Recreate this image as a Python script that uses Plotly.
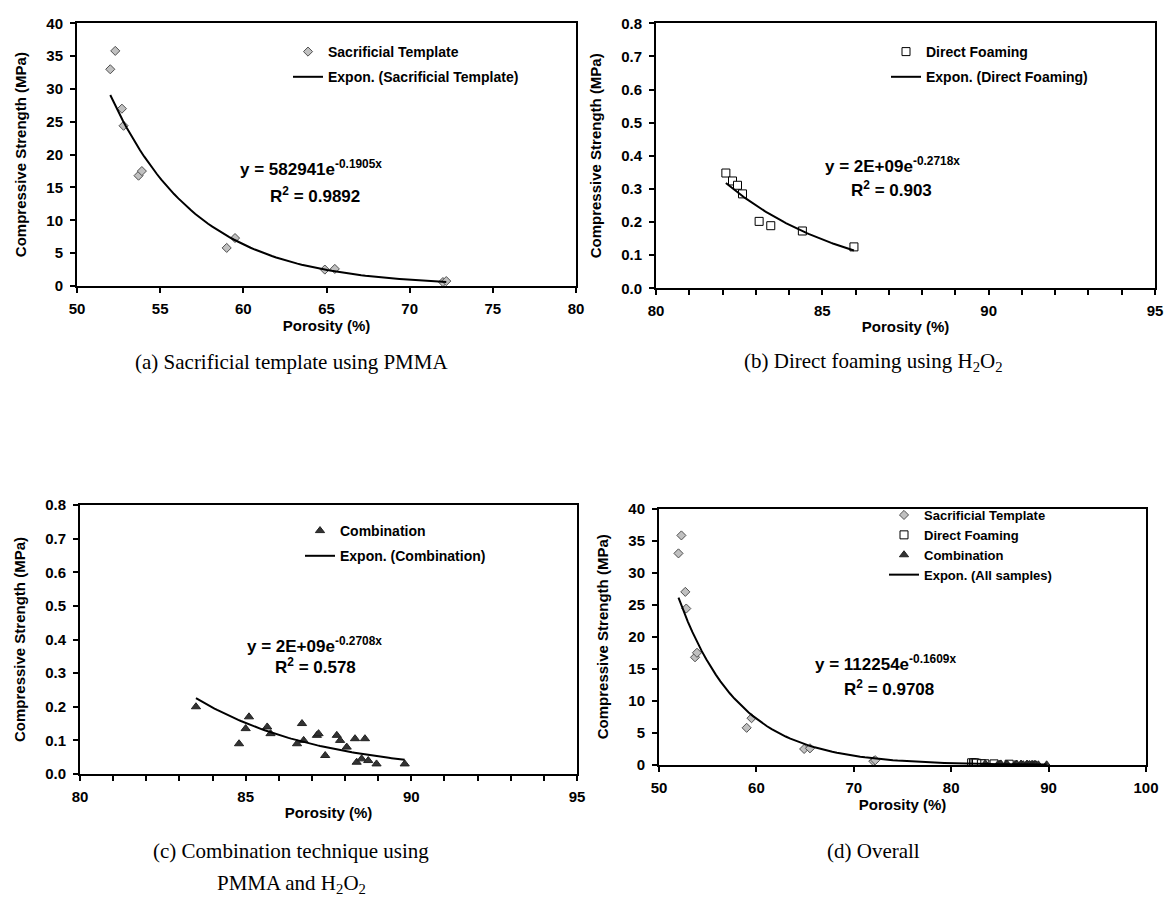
import numpy as np
import plotly.graph_objects as go

W, H = 1164, 906
def px(x): return x / W
def py(y): return 1 - y / H

# ---------------- data ----------------
st_x = [52.0, 52.3, 52.7, 52.8, 53.7, 53.9, 59.0, 59.5, 64.9, 65.5, 72.0, 72.2]
st_y = [33.0, 35.8, 27.0, 24.4, 16.8, 17.5, 5.8, 7.3, 2.5, 2.6, 0.6, 0.75]

df_x = [82.1, 82.3, 82.45, 82.6, 83.1, 83.45, 84.4, 85.95]
df_y = [0.348, 0.324, 0.311, 0.285, 0.202, 0.189, 0.173, 0.125]

cb_x = [83.5, 84.8, 85.0, 85.1, 85.65, 85.75, 86.55, 86.7, 86.75, 87.15, 87.2,
        87.4, 87.75, 87.85, 88.05, 88.3, 88.35, 88.5, 88.6, 88.7, 88.95, 89.8]
cb_y = [0.20, 0.09, 0.135, 0.17, 0.14, 0.12, 0.09, 0.15, 0.10, 0.115, 0.12,
        0.055, 0.115, 0.10, 0.08, 0.105, 0.035, 0.045, 0.105, 0.04, 0.03, 0.03]

# displayed trendline equations
st_A, st_b = 582941.0, -0.1905
all_A, all_b = 112254.0, -0.1609

eq_a = ("y = 582941e<sup>-0.1905x</sup>", "R<sup>2</sup> = 0.9892")
eq_b = ("y = 2E+09e<sup>-0.2718x</sup>", "R<sup>2</sup> = 0.903")
eq_c = ("y = 2E+09e<sup>-0.2708x</sup>", "R<sup>2</sup> = 0.578")
eq_d = ("y = 112254e<sup>-0.1609x</sup>", "R<sup>2</sup> = 0.9708")

captions = ["(a) Sacrificial template using PMMA",
            "(b) Direct foaming using H<sub>2</sub>O<sub>2</sub>",
            "(c) Combination technique using",
            "PMMA and H<sub>2</sub>O<sub>2</sub>",
            "(d) Overall"]

def expfit(xs, ys):
    b, lnA = np.polyfit(np.array(xs), np.log(np.array(ys)), 1)
    return np.exp(lnA), b

def curve(A, b, xs):
    xx = np.linspace(min(xs), max(xs), 80)
    return xx, A * np.exp(b * xx)

ARIAL = "Arial, Liberation Sans, sans-serif"
TIMES = "Times New Roman, Liberation Serif, serif"

dia = dict(symbol="diamond", size=7, color="#C0C0C0", line=dict(color="#505050", width=1))
sq = dict(symbol="square", size=8, color="white", line=dict(color="black", width=1))
tri = dict(symbol="triangle-up", size=8, color="#333333", line=dict(color="#222222", width=1))
ln = dict(color="black", width=2)

fig = go.Figure()

# (a)
xa, ya = curve(st_A, st_b, st_x)
fig.add_trace(go.Scatter(x=st_x, y=st_y, mode="markers", marker=dia, name="Sacrificial Template",
                         xaxis="x", yaxis="y", legend="legend", legendgroup="a1"))
fig.add_trace(go.Scatter(x=xa, y=ya, mode="lines", line=ln, name="Expon. (Sacrificial Template)",
                         xaxis="x", yaxis="y", legend="legend", legendgroup="a2"))
# (b)
Ab, bb = expfit(df_x, df_y)
xb, yb = curve(Ab, bb, df_x)
fig.add_trace(go.Scatter(x=df_x, y=df_y, mode="markers", marker=sq, name="Direct Foaming",
                         xaxis="x2", yaxis="y2", legend="legend2", legendgroup="b1"))
fig.add_trace(go.Scatter(x=xb, y=yb, mode="lines", line=ln, name="Expon. (Direct Foaming)",
                         xaxis="x2", yaxis="y2", legend="legend2", legendgroup="b2"))
# (c)
Ac, bc = expfit(cb_x, cb_y)
xc, yc = curve(Ac, bc, cb_x)
fig.add_trace(go.Scatter(x=cb_x, y=cb_y, mode="markers", marker=tri, name="Combination",
                         xaxis="x3", yaxis="y3", legend="legend3", legendgroup="c1"))
fig.add_trace(go.Scatter(x=xc, y=yc, mode="lines", line=ln, name="Expon. (Combination)",
                         xaxis="x3", yaxis="y3", legend="legend3", legendgroup="c2"))
# (d)
xd, yd = curve(all_A, all_b, st_x + df_x + cb_x)
fig.add_trace(go.Scatter(x=st_x, y=st_y, mode="markers", marker=dia, name="Sacrificial Template",
                         xaxis="x4", yaxis="y4", legend="legend4"))
fig.add_trace(go.Scatter(x=df_x, y=df_y, mode="markers", marker=sq, name="Direct Foaming",
                         xaxis="x4", yaxis="y4", legend="legend4"))
fig.add_trace(go.Scatter(x=cb_x, y=cb_y, mode="markers", marker=tri, name="Combination",
                         xaxis="x4", yaxis="y4", legend="legend4"))
fig.add_trace(go.Scatter(x=xd, y=yd, mode="lines", line=ln, name="Expon. (All samples)",
                         xaxis="x4", yaxis="y4", legend="legend4"))

tickfont = dict(family=ARIAL, size=15, color="black", weight="bold")
titlefont = dict(family=ARIAL, size=15, color="black", weight="bold")

def xax(dom, anchor, rng, tv, tt):
    return dict(domain=dom, anchor=anchor, range=rng, tickvals=tv, ticktext=tt,
                showline=True, linecolor="black", linewidth=2, mirror=True,
                ticks="outside", ticklen=5, tickwidth=1.5, tickcolor="black",
                showgrid=False, zeroline=False, tickfont=tickfont,
                ticklabelstandoff=3, automargin=False,
                title=dict(text="Porosity (%)", font=titlefont, standoff=3))

def yax(dom, anchor, rng, dt, fmt):
    return dict(domain=dom, anchor=anchor, range=rng, dtick=dt, tick0=0, tickformat=fmt,
                showline=True, linecolor="black", linewidth=2, mirror=True,
                ticks="outside", ticklen=5, tickwidth=1.5, tickcolor="black",
                showgrid=False, zeroline=False, tickfont=tickfont, automargin=False,
                ticklabelstandoff=4,
                title=dict(text="Compressive Strength (MPa)", font=titlefont, standoff=16))

xa_vals = list(range(50, 81, 5))
xb_vals = list(range(80, 96))
xb_text = [str(v) if v % 5 == 0 else "" for v in xb_vals]
xd_vals = list(range(50, 101, 10))

layout = dict(
    width=W, height=H, autosize=False,
    margin=dict(l=0, r=0, t=0, b=0),
    paper_bgcolor="white", plot_bgcolor="white",
    xaxis=xax([px(77), px(576)], "y", [50, 80], xa_vals, [str(v) for v in xa_vals]),
    yaxis=yax([py(286), py(23.3)], "x", [0, 40], 5, "d"),
    xaxis2=xax([px(656), px(1155)], "y2", [80, 95], xb_vals, xb_text),
    yaxis2=yax([py(288.3), py(23.3)], "x2", [0, 0.8], 0.1, ".1f"),
    xaxis3=xax([px(80), px(577)], "y3", [80, 95], xb_vals, xb_text),
    yaxis3=yax([py(774), py(505)], "x3", [0, 0.8], 0.1, ".1f"),
    xaxis4=xax([px(659), px(1146)], "y4", [50, 100], xd_vals, [str(v) for v in xd_vals]),
    yaxis4=yax([py(765), py(508.5)], "x4", [0, 40], 5, "d"),
)

def legend(x, y, size, gap):
    return dict(x=px(x), y=py(y), xanchor="left", yanchor="top", bgcolor="rgba(0,0,0,0)",
                borderwidth=0, itemwidth=30, tracegroupgap=gap, traceorder="grouped",
                font=dict(family=ARIAL, size=size, color="black", weight="bold"))

layout["legend"] = legend(288, 36, 14, 4)
layout["legend2"] = legend(886, 36, 14, 4)
layout["legend3"] = legend(300, 515, 14, 4)
layout["legend4"] = legend(884, 500, 13, 0)

fig.update_layout(**layout)

eqfont = dict(family=ARIAL, size=17, color="black", weight="bold")
ann = []
for (l1, l2), (x1, y1), (x2, y2) in [
    (eq_a, (238, 168), (268, 195)),
    (eq_b, (823, 165), (849, 189)),
    (eq_c, (245, 645), (273, 666)),
    (eq_d, (813, 663), (842, 688)),
]:
    ann.append(dict(x=px(x1), y=py(y1), xref="paper", yref="paper", text=l1, showarrow=False,
                    xanchor="left", yanchor="middle", font=eqfont))
    ann.append(dict(x=px(x2), y=py(y2), xref="paper", yref="paper", text=l2, showarrow=False,
                    xanchor="left", yanchor="middle", font=eqfont))

capfont = dict(family=TIMES, size=21, color="black")
for cap, (cx, cy) in zip(captions, [(291, 362), (873, 362), (291, 851), (291, 884), (873, 851)]):
    ann.append(dict(x=px(cx), y=py(cy), xref="paper", yref="paper", text=cap, showarrow=False,
                    xanchor="center", yanchor="middle", font=capfont))

fig.update_layout(annotations=ann)
fig.write_html("out.html")
